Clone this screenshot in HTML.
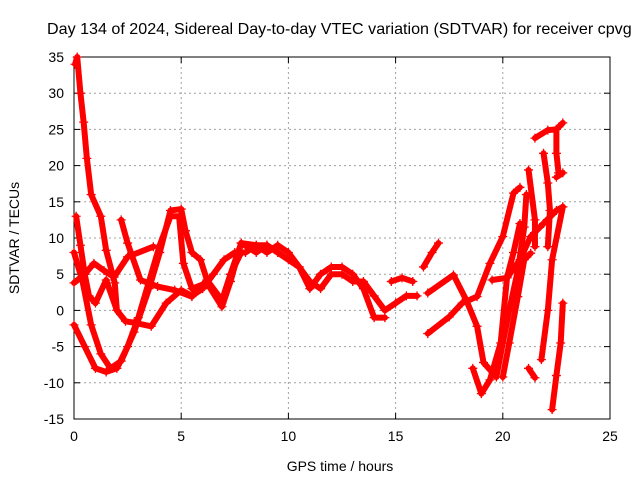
<!DOCTYPE html>
<html><head><meta charset="utf-8"><style>
body{margin:0;background:#fff;width:640px;height:480px;overflow:hidden}
text{font-family:"Liberation Sans",sans-serif;font-size:14px;fill:#000}
</style></head><body>
<svg id="chart" width="640" height="480">
<g id="grid"></g><g id="axes"></g><g id="series"></g>
<text x="47" y="34" style="font-size:16.1px">Day 134 of 2024, Sidereal Day-to-day VTEC variation (SDTVAR) for receiver cpvg</text>
<text x="340" y="471" text-anchor="middle">GPS time / hours</text>
<text transform="translate(19,238) rotate(-90)" text-anchor="middle">SDTVAR / TECUs</text>
</svg>
<script>
const xTicks=[0,5,10,15,20,25];
const yTicks=[-15,-10,-5,0,5,10,15,20,25,30,35];
const trackA=[[0.05,34],[0.15,35],[0.3,30],[0.45,26],[0.6,21],[0.8,16],[1.25,13],[1.5,8.3],[1.9,3.8],[2.0,0],[2.4,-1.5],[2.8,-1.7],[3.6,-2.2],[4.3,1],[5,2.8],[5.5,2],[6,3],[6.5,5],[7,7],[7.5,8],[8,8],[8.5,9],[9,9],[9.5,8],[10,7],[10.5,6],[11,4],[11.5,3],[12,5],[12.5,5],[13,4],[13.5,4],[14,2],[14.5,0],[15,1],[15.5,2],[16,2]];
const trackB=[[0,8],[0.4,4],[0.8,-2],[1.25,-6],[1.7,-8],[2.2,-7],[2.8,-3],[3.5,3],[4,8],[4.5,13.8],[5,14],[5.2,11],[5.5,8],[5.9,7],[6.2,4.2],[6.9,1],[7.3,5],[7.8,9.3],[8.5,9],[9,8],[9.5,9],[10,8],[10.5,6],[11,3],[11.5,5],[12,6],[12.5,6],[13,5],[13.5,3],[14,-1],[14.5,-1]];
const trackC=[[0,-2],[0.5,-5],[1,-8],[1.5,-8.5],[2,-8],[2.5,-5],[3,-1],[3.5,4],[4,9],[4.5,13],[4.9,13],[5.1,6.5],[5.5,3],[6.2,3.8],[6.9,0.5],[7.3,4],[7.8,9.3],[8.5,8],[9,9],[9.5,8]];
const trackD=[[0,3.8],[0.5,5],[0.93,6.5],[1.4,5.5],[1.87,4.6],[2.5,7.4],[3.7,8.8]];
const trackE=[[2.2,12.5],[2.5,9.3],[3.1,4.2],[3.9,3.3],[4.7,2.8],[5.5,1.9],[6.2,4.2],[6.9,1.4],[7.3,5],[7.8,8]];
const trackF=[[0.1,13],[0.3,9],[0.5,5],[0.7,2],[1,1],[1.5,4.2],[2,0]];
const trackG=[[16.5,-3.2],[17.5,-0.9],[18.1,1],[18.8,1.9],[19.4,6.5],[20,10.2],[20.5,16.2],[20.8,17]];
const trackH=[[16.5,2.4],[17.7,4.9],[18.3,1.4],[18.8,-2.2],[19.1,-7.2],[19.7,-9.2],[20,-4.5],[20.3,0],[20.7,5.5],[21,11.5],[21.1,16]];
const trackI=[[18.6,-8],[19,-11.5],[19.4,-9.6],[19.9,-4.5],[20.2,4.6],[20.5,8],[20.8,12]];
const trackJ=[[19.5,4.2],[20.2,4.5],[20.8,7],[21.3,10.2],[21.9,12],[22.5,13.8],[22.8,14.3]];
const trackK=[[21.5,23.8],[22.1,24.9],[22.5,25],[22.8,25.9]];
const trackL=[[22.3,-13.7],[22.5,-9],[22.7,-4.5],[22.8,1]];
const trackM=[[22.8,14.3],[22.3,7],[22.1,0],[21.8,-6.8]];
const trackN=[[22.5,18.4],[22.8,19]];
const trackO=[[16.3,6],[16.7,8],[17,9.3]];
const trackP=[[14.8,4],[15.3,4.5],[15.8,4]];
const trackQ=[[20,-9.2],[20.3,-4.5],[20.7,1.9],[21,7],[21.3,7.9]];
const trackR=[[21.2,19.4],[21.5,12.5],[21.5,8.8]];
const trackS=[[21.9,21.7],[22.1,17.6],[22.2,13.8],[22.1,8.8]];
const trackT=[[22.5,25],[22.5,21.7],[22.6,19]];
const trackU=[[21.2,-8],[21.5,-9.3]];
const tracks=[trackA,trackB,trackC,trackD,trackE,trackF,trackG,trackH,trackI,trackJ,trackK,trackL,trackM,trackN,trackO,trackP,trackQ,trackR,trackS,trackT,trackU];
const X0=74,X1=610,Y0=419,Y1=57;
function sx(v){return X0+(v-0)/25*(X1-X0);}
function sy(v){return Y0-(v+15)/50*(Y0-Y1);}
const NS="http://www.w3.org/2000/svg";
function mk(t,a,p){const e=document.createElementNS(NS,t);for(const k in a)e.setAttribute(k,a[k]);p.appendChild(e);return e;}
const grid=document.getElementById('grid'),axes=document.getElementById('axes'),ser=document.getElementById('series');
xTicks.forEach(t=>{const x=sx(t);
 if(t>0&&t<25){const g=mk('line',{x1:x,x2:x,y1:Y1,y2:Y0,stroke:'#a0a0a0','stroke-dasharray':'2,3'},grid);
 }
 const l=mk('text',{x:x,y:Y0+22,'text-anchor':'middle'},axes);l.textContent=t;
 
 mk('line',{x1:x,x2:x,y1:Y0,y2:Y0-6,stroke:'#000'},axes);mk('line',{x1:x,x2:x,y1:Y1,y2:Y1+6,stroke:'#000'},axes);});
yTicks.forEach(t=>{const y=sy(t);
 if(t>-15&&t<35){const g=mk('line',{x1:X0,x2:X1,y1:y,y2:y,stroke:'#a0a0a0','stroke-dasharray':'2,3'},grid);
 }
 const l=mk('text',{x:X0-10,y:y+5,'text-anchor':'end'},axes);l.textContent=t;
 
 mk('line',{x1:X0,x2:X0+6,y1:y,y2:y,stroke:'#000'},axes);mk('line',{x1:X1,x2:X1-6,y1:y,y2:y,stroke:'#000'},axes);});
const fr=mk('rect',{x:X0,y:Y1,width:X1-X0,height:Y0-Y1,fill:'none',stroke:'#000'},axes);

tracks.forEach(tr=>{
 const pl=mk('polyline',{points:tr.map(p=>sx(p[0])+','+sy(p[1])).join(' '),fill:'none',stroke:'#ff0000','stroke-width':6,'stroke-linejoin':'round','stroke-linecap':'round'},ser);
 
 tr.forEach(p=>{const x=sx(p[0]),y=sy(p[1]);
  const m=mk('path',{d:`M${x-4.5},${y}H${x+4.5}M${x},${y-4.5}V${y+4.5}`,stroke:'#ff0000','stroke-width':1.3},ser);
  });
});
</script>
</body></html>
